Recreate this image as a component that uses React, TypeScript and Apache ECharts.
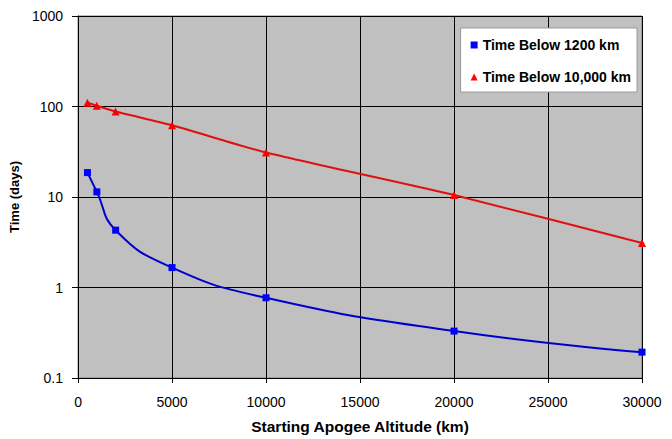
import React, { useEffect, useRef } from "react";
import * as echarts from "echarts";

const altitudes = [500, 1000, 2000, 5000, 10000, 20000, 30000];
const below1200 = [18.6, 11.4, 4.3, 1.66, 0.77, 0.33, 0.193];
const below10000 = [110, 102, 88, 62, 31, 10.5, 3.1];
const xTicks = [0, 5000, 10000, 15000, 20000, 25000, 30000];
const yTicks = [0.1, 1, 10, 100, 1000];

const FONT = "Liberation Sans, Arial, sans-serif";

export default function App() {
  const ref = useRef<HTMLDivElement>(null);
  useEffect(() => {
    if (!ref.current) return;
    const chart = echarts.init(ref.current, undefined, { renderer: "svg" });
    chart.setOption({
      animation: false,
      backgroundColor: "#ffffff",
      textStyle: { fontFamily: FONT },
      grid: {
        left: 78,
        right: 30,
        top: 16,
        bottom: 59,
        show: true,
        backgroundColor: "#c0c0c0",
        borderColor: "#808080",
        borderWidth: 1,
      },
      legend: {
        orient: "vertical",
        right: 35,
        top: 28,
        backgroundColor: "#ffffff",
        borderColor: "#9a9a9a",
        borderWidth: 1,
        padding: [10, 6, 8, 10],
        itemGap: 18,
        itemWidth: 7,
        itemHeight: 7,
        textStyle: { fontFamily: FONT, fontWeight: "bold", fontSize: 14, color: "#000" },
        data: [
          { name: "Time Below 1200 km", icon: "rect" },
          { name: "Time Below 10,000 km", icon: "triangle" },
        ],
      },
      xAxis: {
        type: "value",
        min: xTicks[0],
        max: xTicks[xTicks.length - 1],
        interval: 5000,
        name: "Starting Apogee Altitude (km)",
        nameLocation: "middle",
        nameGap: 40,
        nameTextStyle: { fontFamily: FONT, fontWeight: "bold", fontSize: 15.5, color: "#000" },
        axisLine: { lineStyle: { color: "#000", width: 1 } },
        axisTick: { show: true, length: 5, lineStyle: { color: "#000" } },
        axisLabel: {
          fontFamily: FONT,
          fontSize: 14,
          color: "#000",
          margin: 17,
          formatter: (v: number) => String(v),
        },
        splitLine: { show: true, lineStyle: { color: "#000", width: 1 } },
      },
      yAxis: {
        type: "log",
        logBase: 10,
        min: yTicks[0],
        max: yTicks[yTicks.length - 1],
        name: "Time (days)",
        nameLocation: "middle",
        nameGap: 52,
        nameRotate: 90,
        nameTextStyle: { fontFamily: FONT, fontWeight: "bold", fontSize: 13, color: "#000" },
        axisLine: { show: true, lineStyle: { color: "#000", width: 1 } },
        axisTick: { show: true, length: 6, lineStyle: { color: "#000" } },
        axisLabel: {
          fontFamily: FONT,
          fontSize: 14,
          color: "#000",
          margin: 15,
          formatter: (v: number) => String(parseFloat(v.toPrecision(3))),
        },
        splitLine: { show: true, lineStyle: { color: "#000", width: 1 } },
      },
      series: [
        {
          name: "Time Below 1200 km",
          type: "line",
          smooth: 0.5,
          data: altitudes.map((x, i) => [x, below1200[i]]),
          symbol: "rect",
          symbolSize: 7,
          itemStyle: { color: "#0000ff" },
          lineStyle: { color: "#0000cc", width: 2 },
        },
        {
          name: "Time Below 10,000 km",
          type: "line",
          smooth: 0.2,
          data: altitudes.map((x, i) => [x, below10000[i]]),
          symbol: "triangle",
          symbolSize: 8,
          itemStyle: { color: "#ff0000" },
          lineStyle: { color: "#e01010", width: 2 },
        },
      ],
    });
    return () => chart.dispose();
  }, []);
  return <div ref={ref} style={{ width: 672, height: 439, position: "absolute", left: 0, top: 0 }} />;
}
